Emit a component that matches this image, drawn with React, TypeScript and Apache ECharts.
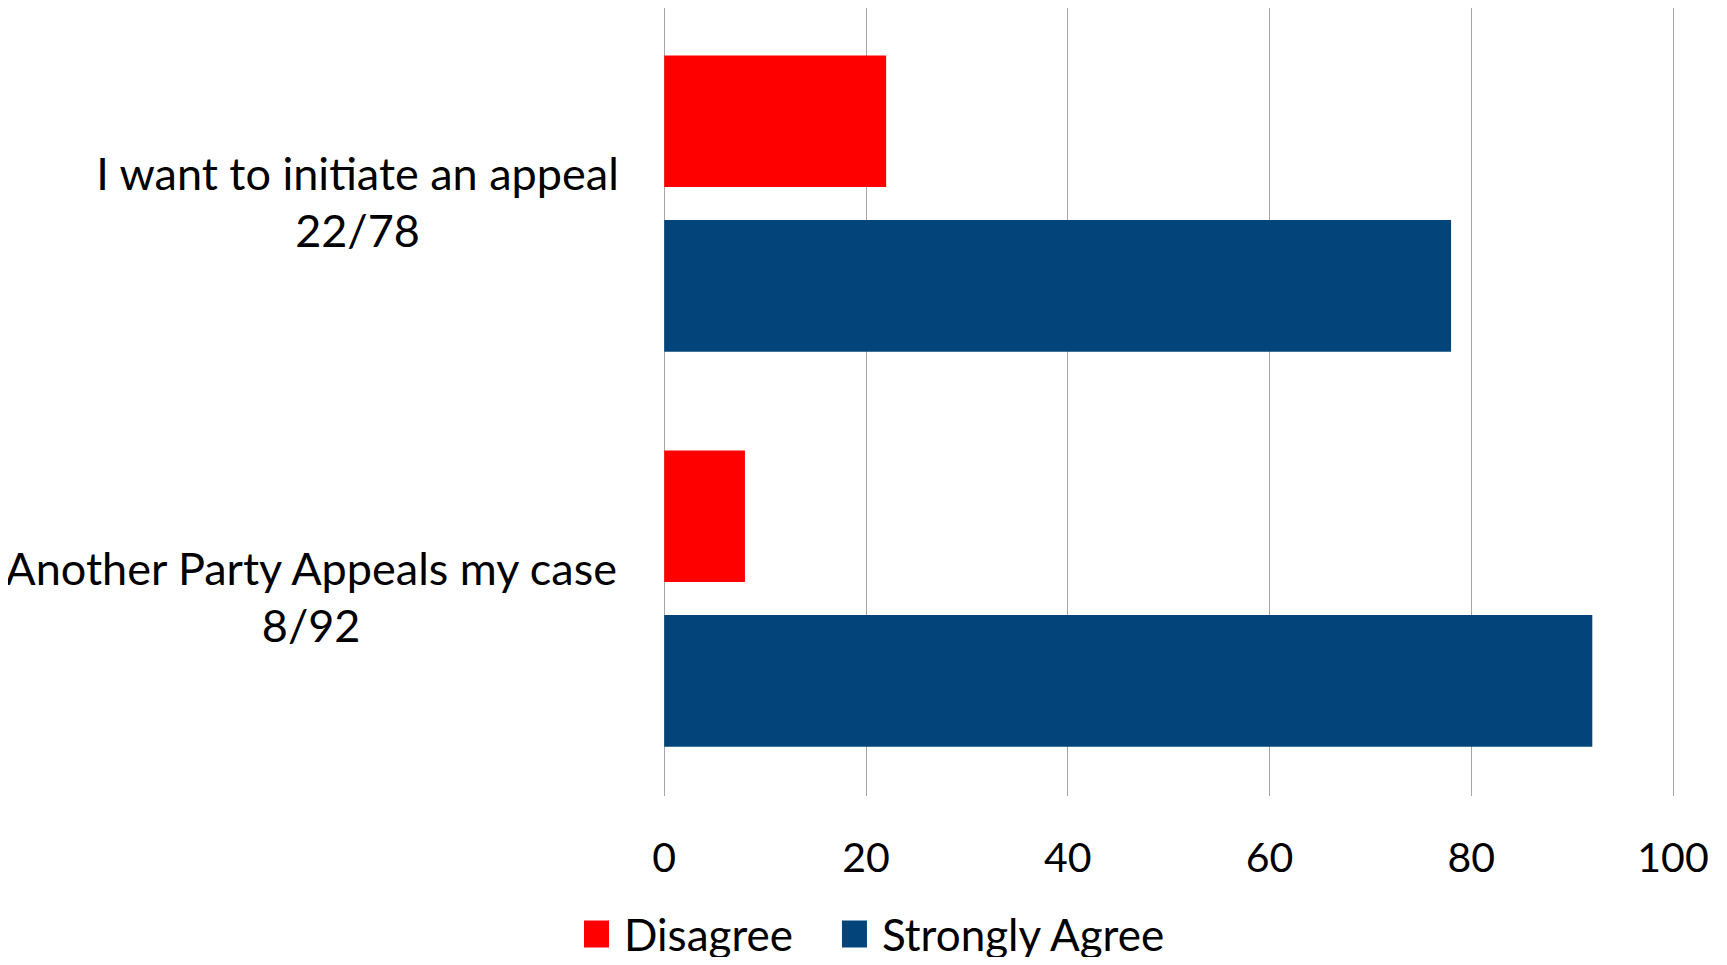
import React, { useEffect, useRef } from "react";
import * as echarts from "echarts";

const categories = [
  ["I want to initiate an appeal", "22/78"],
  ["Another Party Appeals my case", "8/92"],
];
const seriesNames = ["Disagree", "Strongly Agree"];
const disagree = [22, 8];
const stronglyAgree = [78, 92];
const xTicks = { min: 0, max: 100, interval: 20 };

const FONT = "Lato, 'Open Sans', sans-serif";

export default function App() {
  const ref = useRef<HTMLDivElement>(null);
  useEffect(() => {
    if (!ref.current) return;
    const chart = echarts.init(ref.current, null, { renderer: "svg" });
    chart.setOption({
      animation: false,
      backgroundColor: "#ffffff",
      textStyle: { fontFamily: FONT, color: "#000" },
      grid: { left: 664, right: 54, top: 6, bottom: 169, containLabel: false },
      legend: {
        data: seriesNames,
        left: 584,
        top: 912,
        padding: 0,
        itemWidth: 25,
        itemHeight: 27,
        itemGap: 49,
        icon: "rect",
        textStyle: { fontFamily: FONT, fontSize: 44, color: "#000", padding: [0, 0, 0, 10] },
      },
      xAxis: {
        type: "value",
        min: xTicks.min,
        max: xTicks.max,
        interval: xTicks.interval,
        axisLine: { show: false },
        axisTick: { show: false },
        splitLine: { show: true, lineStyle: { color: "#a6a6a6", width: 1 } },
        axisLabel: { fontFamily: FONT, fontSize: 41, color: "#000", margin: 40 },
      },
      yAxis: {
        type: "category",
        inverse: true,
        data: categories.map((c) => c.join("\n")),
        axisLine: { show: false },
        axisTick: { show: false },
        axisLabel: {
          margin: 45,
          formatter: (v: string) =>
            v
              .split("\n")
              .map((l) => `{c|${l}}`)
              .join("\n"),
          rich: {
            c: { align: "center", fontFamily: FONT, fontSize: 45, lineHeight: 57, color: "#000", padding: [0, 0, 4, 0] },
          },
        },
      },
      series: [
        {
          name: seriesNames[0],
          type: "bar",
          data: disagree,
          itemStyle: { color: "#ff0000" },
          barGap: "25%",
          barCategoryGap: "25%",
        },
        {
          name: seriesNames[1],
          type: "bar",
          data: stronglyAgree,
          itemStyle: { color: "#03457a" },
          barGap: "25%",
          barCategoryGap: "25%",
        },
      ],
    });
    return () => chart.dispose();
  }, []);
  return <div ref={ref} style={{ width: 1727, height: 965, margin: -8 }} />;
}
